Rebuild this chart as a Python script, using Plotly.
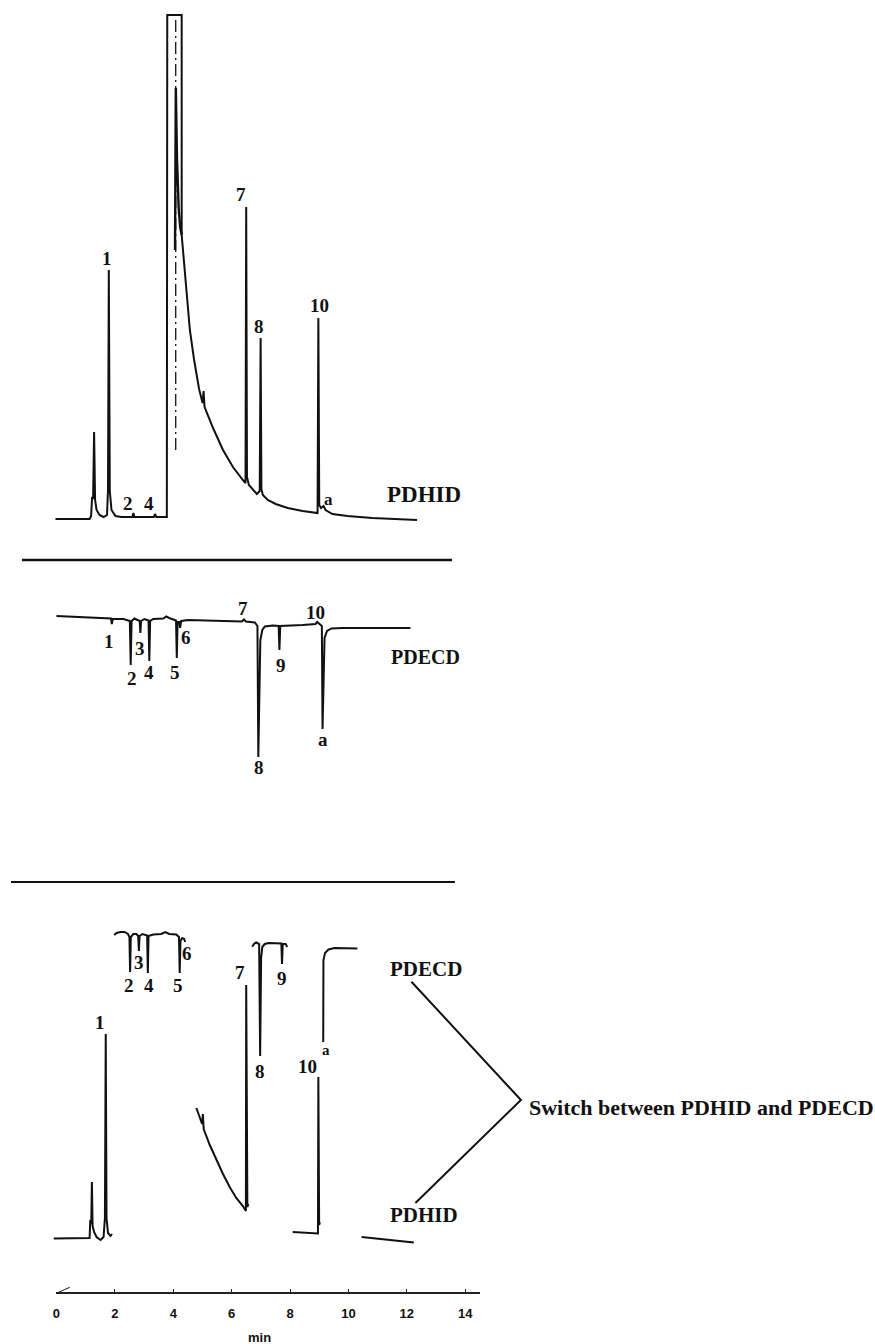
import plotly.graph_objects as go

# ---------------------------------------------------------------
# Chromatogram data: retention time (min) and detector response
# (arbitrary units, baseline = 0).  None separates pen segments.
# ---------------------------------------------------------------

# Upper run, PDHID detector (solvent peak goes off scale)
hid_run1_t = [-0.034, 1.135, 1.187, 1.221, 1.255, 1.289, 1.323, 1.374, 1.476, 1.613,
              1.732, 1.766, 1.793, 1.827, 1.885, 2.022, 2.226, 2.601, 2.636, 2.670,
              3.334, 3.375, 3.420, 3.781, 3.795, 4.289, 4.289, 4.374, 4.460, 4.569,
              4.715, 4.885, 5.005, 5.039, 5.073, 5.363, 5.704, 6.045, 6.386, 6.475,
              6.499, 6.526, 6.591, 6.727, 6.863, 6.962, 6.993, 7.020, 7.068, 7.238,
              7.511, 7.920, 8.432, 8.943, 8.970, 9.001, 9.063, 9.148, 9.216, 9.455,
              9.966, 10.818, 12.353]
hid_run1_s = [0, 0, 3, 22, 20, 87, 19, 9, 4, 2,
              4, 30, 249, 28, 9, 3, 2, 2, 6, 2,
              2, 5, 2, 2, 504, 504, 284, 257, 224, 189,
              159, 130, 116, 128, 112, 91, 69, 52, 39, 36,
              312, 42, 34, 29, 25, 28, 181, 30, 24, 19,
              15, 11, 8, 6, 201, 14, 11, 13, 9, 5,
              3, 1, -1]

# Solvent peak apex recorded inside the off-scale box
solvent_t = [4.061, 4.088, 4.129, 4.187, 4.238, 4.289]
solvent_s = [269, 431, 360, 310, 292, 284]

# Detector switching time (dash-dot marker)
switch_t = [4.085, 4.085]
switch_s = [499, 67]

# Upper run, PDECD detector (electron-capture response is negative)
ecd_run1_t = [0.0, 1.613, 1.868, 1.896, 1.930, 2.295, 2.513, 2.543, 2.574, 2.670,
              2.772, 2.850, 2.874, 2.898, 3.011, 3.154, 3.181, 3.208, 3.317, 3.658,
              3.761, 3.863, 4.095, 4.122, 4.149, 4.211, 4.235, 4.272, 4.511, 5.363,
              6.352, 6.420, 6.488, 6.795, 6.884, 6.914, 6.945, 6.983, 7.051, 7.136,
              7.409, 7.610, 7.637, 7.665, 8.432, 8.875, 8.930, 8.994, 9.090, 9.114,
              9.144, 9.182, 9.267, 9.420, 9.796, 12.124]
ecd_run1_s = [0, -2, -2.5, -8, -3, -3, -5, -49, -5, -2.5,
              -4, -5, -17, -5, -3, -4.5, -45, -5, -3, -2.5,
              -0.5, -2, -4.5, -42, -6, -6, -12, -5, -4, -4.5,
              -5.5, -3.5, -5.5, -6.5, -10, -141, -60, -24, -14, -10.5,
              -9.5, -10, -34, -10, -9, -8, -6, -8, -10, -113,
              -60, -22, -15, -12.5, -12, -12]

# Switched run: PDECD windows
ecd_run2_t = [1.978, 2.056, 2.192, 2.329, 2.448, 2.499, 2.523, 2.547, 2.636, 2.738,
              2.799, 2.823, 2.847, 2.942, 3.106, 3.130, 3.154, 3.317, 3.590, 3.727,
              3.863, 4.102, 4.197, 4.221, 4.248, 4.306, 4.374, 4.409, None,
              6.703, 6.778, 6.846, 6.942, 6.976, 7.010, 7.051, 7.136, 7.272, 7.702,
              7.726, 7.750, 7.852, 7.903, None,
              9.137, 9.144, 9.199, 9.318, 9.523, 10.307]
ecd_run2_s = [-2, 0, 1, 1, -1, -4, -39, -4, -1, -1,
              -3, -18, -3, -1, -2.5, -40, -3, -1.5, -1, 1,
              -1, -1.5, -4, -40, -8, -5, -6, -9, None,
              -13.7, -10.5, -9.5, -11, -123, -25, -14, -11, -10, -10.5,
              -31, -11, -11, -14, None,
              -109, -27, -20, -16.5, -15, -15.5]

# Switched run: PDHID windows
hid_run2_t = [-0.092, 1.135, 1.159, 1.190, 1.214, 1.238, 1.289, 1.374, 1.510, 1.613,
              1.660, 1.688, 1.715, 1.766, 1.851, 1.903, None,
              4.794, 4.903, 4.988, 5.015, 5.043, 5.251, 5.476, 5.704, 5.933,
              6.158, 6.386, 6.488, 6.499, 6.539, 6.574, None,
              8.091, 8.602, 8.957, 8.970, 8.998, 9.022, None,
              10.453, 12.240]
hid_run2_s = [-0.5, 0, 18, 14, 56, 12, 6, 1, -2, 1,
              20, 204, 20, 5, 2, 4, None,
              130, 120, 114, 124, 109, 93, 78, 64, 51,
              40, 32, 27, 253, 31, 34, None,
              6, 5.5, 4.5, 161, 13, 16, None,
              1, -4.5]

# Peak labels: (text, time, response) for each trace
hid_run1_labels = [("1", 1.732, 261), ("2", 2.465, 16), ("4", 3.181, 16),
                   ("7", 6.335, 325), ("8", 6.931, 193), ("10", 8.994, 214)]
ecd_run1_labels = [("1", 1.783, -25), ("2", 2.578, -62), ("3", 2.864, -32),
                   ("4", 3.181, -56), ("5", 4.057, -56), ("6", 4.453, -21),
                   ("7", 6.386, 8), ("8", 6.931, -151), ("9", 7.692, -49),
                   ("10", 8.885, 4), ("a", 9.114, -123)]
ecd_run2_labels = [("2", 2.469, -52), ("3", 2.840, -29), ("4", 3.164, -52),
                   ("5", 4.153, -52), ("6", 4.477, -20), ("7", 6.273, -39),
                   ("8", 6.955, -138), ("9", 7.726, -45)]
hid_run2_labels = [("1", 1.500, 216), ("10", 8.602, 172)]

time_ticks = [0, 2, 4, 6, 8, 10, 12, 14]

# ---------------------------------------------------------------
W, H = 875, 1344
INK = "#111111"
SERIF = "Liberation Serif"

def px(x):
    return x / W

def py(y):
    return 1 - y / H

# pixel scale of the time axis
T0_PX, PX_PER_MIN = 52.7, 29.33
AXIS_END_PX = 478.0

fig = go.Figure()

def trace(t, s, yaxis, width=2.0, dash=None):
    fig.add_trace(go.Scatter(
        x=t, y=s, mode="lines", xaxis="x", yaxis=yaxis,
        line=dict(color=INK, width=width, dash=dash),
        connectgaps=False, showlegend=False, hoverinfo="skip"))

trace(hid_run1_t, hid_run1_s, "y")
trace(solvent_t, solvent_s, "y", width=2.4)
trace(switch_t, switch_s, "y", width=1.3, dash="12px,4px,2px,4px")
trace(ecd_run1_t, ecd_run1_s, "y2")
trace(ecd_run2_t, ecd_run2_s, "y3")
trace(hid_run2_t, hid_run2_s, "y4")

# carrier trace for the visible time axis
fig.add_trace(go.Scatter(x=[0, 14.5], y=[None, None], xaxis="x2", yaxis="y",
                         mode="lines", showlegend=False, hoverinfo="skip"))

annotations = []

def label(text, t, s, yref, size=19):
    annotations.append(dict(
        x=t, y=s, xref="x", yref=yref, text=text, showarrow=False,
        xanchor="center", yanchor="middle",
        font=dict(family=SERIF, size=size, color=INK, weight="bold")))

for txt, t, s in hid_run1_labels:
    label(txt, t, s, "y")
label("a", 9.318, 20, "y", size=17)
label("PDHID", 12.59, 25, "y", size=23)

for txt, t, s in ecd_run1_labels:
    label(txt, t, s, "y2")
label("PDECD", 12.625, -41, "y2", size=20)

for txt, t, s in ecd_run2_labels:
    label(txt, t, s, "y3")
label("a", 9.233, -117, "y3", size=15)
label("PDECD", 12.64, -36, "y3", size=21)

for txt, t, s in hid_run2_labels:
    label(txt, t, s, "y4")
label("PDHID", 12.59, 23, "y4", size=21)

annotations.append(dict(
    x=px(525), y=py(1107), xref="paper", yref="paper",
    text="Switch between PDHID and PDECD", showarrow=False,
    xanchor="left", yanchor="middle",
    font=dict(family=SERIF, size=22, color=INK, weight="bold")))

annotations.append(dict(
    x=px(257), y=py(1337), xref="paper", yref="paper",
    text="min", showarrow=False, xanchor="center", yanchor="middle",
    font=dict(family="Liberation Sans", size=13, color=INK, weight="bold")))

shapes = [
    # panel separators
    dict(type="line", xref="paper", yref="paper", x0=px(18), x1=px(450),
         y0=py(560), y1=py(560), line=dict(color=INK, width=2.5)),
    dict(type="line", xref="paper", yref="paper", x0=px(7), x1=px(453),
         y0=py(882), y1=py(882), line=dict(color=INK, width=2.2)),
    # bracket linking the two detector labels
    dict(type="path", xref="paper", yref="paper",
         path=f"M {px(409.3)},{py(981.7)} L {px(519.3)},{py(1100)} L {px(413.3)},{py(1203)}",
         line=dict(color=INK, width=2)),
    # start mark on the time axis
    dict(type="line", xref="paper", yref="paper", x0=px(52.7), x1=px(66),
         y0=py(1293.3), y1=py(1287.3), line=dict(color=INK, width=1)),
]

x_lo = -T0_PX / PX_PER_MIN
x_hi = (W - T0_PX) / PX_PER_MIN

def ax_range(base_px):
    return [base_px - H, base_px]

hidden = dict(visible=False, showgrid=False, zeroline=False, fixedrange=True)

fig.update_layout(
    width=W, height=H,
    margin=dict(l=0, r=0, t=0, b=0),
    paper_bgcolor="white", plot_bgcolor="rgba(0,0,0,0)",
    showlegend=False,
    xaxis=dict(range=[x_lo, x_hi], domain=[0, 1], **hidden),
    xaxis2=dict(range=[0, (AXIS_END_PX - T0_PX) / PX_PER_MIN],
                domain=[px(T0_PX), px(AXIS_END_PX)],
                anchor="free", position=py(1292.7),
                showline=True, linecolor="#222222", linewidth=1.6,
                showgrid=False, zeroline=False,
                ticks="inside", ticklen=3, tickwidth=1, tickcolor="#222222",
                tickvals=time_ticks, ticktext=[f"<b>{v}</b>" for v in time_ticks],
                tickfont=dict(family="Liberation Sans", size=13, color=INK),
                ticklabelstandoff=9),
    yaxis=dict(range=ax_range(519), domain=[0, 1], **hidden),
    yaxis2=dict(range=ax_range(616), overlaying="y", **hidden),
    yaxis3=dict(range=ax_range(933), overlaying="y", **hidden),
    yaxis4=dict(range=ax_range(1238), overlaying="y", **hidden),
    annotations=annotations,
    shapes=shapes,
)

fig.write_html("out.html")
